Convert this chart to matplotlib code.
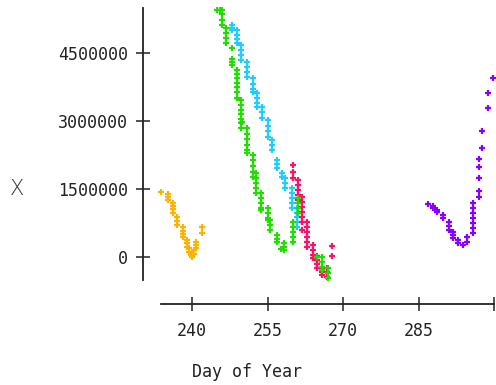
import matplotlib
matplotlib.use("Agg")
import matplotlib.pyplot as plt

# day of year and X value for each observation, one pair of lists per series
orange_day = [233.8, 235.2, 235.2, 235.2, 236.2, 236.2, 236.2, 236.2, 237.0, 237.0, 237.0,
              238.2, 238.2, 238.2, 238.2, 239.1, 239.1, 239.1, 239.5, 239.5, 239.9, 239.9, 239.8,
              240.3, 240.3, 240.8, 240.8, 240.8, 241.9, 241.9]
orange_val = [1440000, 1390000, 1330000, 1260000, 1190000, 1120000, 1050000, 970000, 880000, 800000, 710000,
              660000, 580000, 510000, 440000, 380000, 300000, 220000, 200000, 120000, 80000, 0, 40000,
              60000, 150000, 330000, 260000, 200000, 660000, 530000]

green_day = [244.9, 245.6, 245.9, 245.9, 245.9, 245.9, 246.7, 246.7, 246.7, 246.7,
             247.9, 247.9, 247.9, 247.9, 248.9, 248.9, 248.9, 248.9, 248.9, 248.9, 248.9,
             249.7, 249.7, 249.7, 249.7, 249.7, 249.7, 249.7, 249.9,
             251.0, 251.0, 251.0, 251.0, 251.0, 251.0, 252.2, 252.2, 252.2, 252.2, 252.2,
             252.7, 252.7, 252.7, 252.7, 252.7, 253.7, 253.7, 253.7, 253.7, 253.7,
             255.0, 255.0, 255.0, 255.0, 255.5, 255.5, 255.5, 256.8, 256.8, 256.8,
             257.6, 258.3, 258.3, 258.3, 260.0, 260.0, 260.0, 260.0, 260.0,
             261.1, 261.1, 261.1, 261.1, 264.8, 265.8, 265.8, 265.8, 265.8, 267.1, 267.1, 267.1]
green_val = [5450000, 5450000, 5450000, 5350000, 5230000, 5120000, 5050000, 4940000, 4830000, 4720000,
             4610000, 4370000, 4300000, 4240000, 4130000, 4030000, 3940000, 3840000, 3740000, 3640000, 3510000,
             3460000, 3360000, 3250000, 3150000, 3050000, 2950000, 2850000, 2980000,
             2850000, 2720000, 2600000, 2480000, 2370000, 2290000, 2250000, 2130000, 2000000, 1880000, 1760000,
             1850000, 1740000, 1630000, 1520000, 1410000, 1410000, 1300000, 1190000, 1080000, 1040000,
             1080000, 970000, 870000, 820000, 820000, 710000, 600000, 490000, 400000, 330000,
             170000, 310000, 230000, 150000, 770000, 660000, 550000, 440000, 330000,
             1300000, 1190000, 1080000, 970000, 0, 0, -110000, -220000, -290000, -240000, -350000, -460000]

cyan_day = [247.9, 247.9, 247.9, 248.9, 248.9, 248.9, 248.9, 249.8, 249.8, 249.8, 249.8,
            250.9, 250.9, 250.9, 250.9, 252.1, 252.1, 252.1, 252.1, 252.9, 252.9, 252.9, 252.9,
            253.9, 253.9, 253.9, 255.0, 255.0, 255.0, 255.0, 255.8, 255.8, 255.8,
            256.8, 256.8, 256.8, 257.8, 257.8, 258.5, 258.5, 258.5,
            259.9, 259.9, 259.9, 259.9, 259.9, 260.9, 260.9, 260.9, 260.9, 260.9]
cyan_val = [5120000, 5050000, 5010000, 5010000, 4900000, 4800000, 4720000, 4680000, 4570000, 4460000, 4350000,
            4300000, 4190000, 4080000, 3970000, 3950000, 3820000, 3700000, 3640000, 3620000, 3500000, 3400000, 3310000,
            3310000, 3200000, 3070000, 3020000, 2900000, 2780000, 2650000, 2580000, 2470000, 2360000,
            2140000, 2050000, 1960000, 1850000, 1760000, 1740000, 1630000, 1520000,
            1520000, 1410000, 1300000, 1190000, 1080000, 1080000, 970000, 880000, 770000, 660000]

magenta_day = [260.0, 260.0, 260.0, 261.1, 261.1, 261.1, 261.1, 261.1,
               261.8, 261.8, 261.8, 261.8, 261.8, 261.8, 261.8,
               262.8, 262.8, 262.8, 262.8, 262.8, 262.8, 264.1, 264.1, 264.1, 264.1,
               264.8, 264.8, 264.8, 264.8, 265.8, 265.8, 265.8, 266.8, 266.8, 266.8, 267.8, 267.8]
magenta_val = [2030000, 1880000, 1740000, 1700000, 1590000, 1480000, 1370000, 1260000,
               1320000, 1210000, 1100000, 990000, 880000, 770000, 600000,
               770000, 660000, 550000, 440000, 330000, 220000, 260000, 150000, 40000, -20000,
               20000, -70000, -150000, -240000, -240000, -330000, -400000, -240000, -330000, -440000, 240000, 20000]

purple_day = [286.8, 287.9, 287.9, 288.6, 288.6, 289.9, 289.9, 291.1, 291.1, 291.1,
              291.8, 291.8, 291.8, 292.9, 292.9, 293.9, 294.7, 294.7,
              295.9, 295.9, 295.9, 295.9, 295.9, 295.9, 295.9,
              297.0, 297.0, 297.0, 297.0, 297.0, 297.7, 297.7, 298.9, 298.9, 299.9]
purple_val = [1170000, 1120000, 1080000, 1040000, 1000000, 930000, 860000, 770000, 680000, 600000,
              550000, 480000, 420000, 375000, 310000, 260000, 440000, 330000,
              1190000, 1080000, 970000, 860000, 750000, 640000, 530000,
              1320000, 1460000, 1740000, 1990000, 2160000, 2400000, 2780000, 3290000, 3620000, 3950000]

y_ticks = [0, 1500000, 3000000, 4500000]
x_ticks = [240, 255, 270, 285, 300]
x_tick_labels = ['240', '255', '270', '285', '']

plt.rcParams['font.family'] = ['DejaVu Sans Mono']

fig = plt.figure(figsize=(4.96, 3.85), dpi=100)
ax = fig.add_axes([161 / 496, 105 / 385, 333 / 496, 272 / 385])

series = [
    (orange_day, orange_val, '#ffb300'),
    (cyan_day, cyan_val, '#22ccff'),
    (magenta_day, magenta_val, '#ff1166'),
    (green_day, green_val, '#22dd00'),
    (purple_day, purple_val, '#8a00ff'),
]
for d, v, c in series:
    ax.plot(d, v, linestyle='none', marker='+', markersize=4.5, markeredgewidth=1.6,
            color=c, clip_on=False)

ax.set_xlim(233.84, 300.0)
ax.set_ylim(-507000, 5493000)

for side in ['top', 'right']:
    ax.spines[side].set_visible(False)
ax.spines['left'].set_position(('outward', 13))
ax.spines['bottom'].set_position(('outward', 17.3))
for side in ['left', 'bottom']:
    ax.spines[side].set_linewidth(1.3)
    ax.spines[side].set_color('#222222')

ax.set_yticks(y_ticks, labels=[str(t) for t in y_ticks])
ax.set_xticks(x_ticks, labels=x_tick_labels)
ax.tick_params(axis='both', direction='inout', length=9.5, width=1.1, color='#222222',
               labelsize=12, labelcolor='#222222')
ax.tick_params(axis='y', pad=6)
ax.tick_params(axis='x', pad=8)

fig.text(192 / 496, 13 / 385, 'Day of Year', fontsize=12, color='#222222', va='center', ha='left')
fig.text(17 / 496, 196 / 385, 'X', fontsize=15, color='#333333', va='center', ha='center',
         family='DejaVu Sans', fontweight='light')

fig.savefig('out.png', dpi=100)
